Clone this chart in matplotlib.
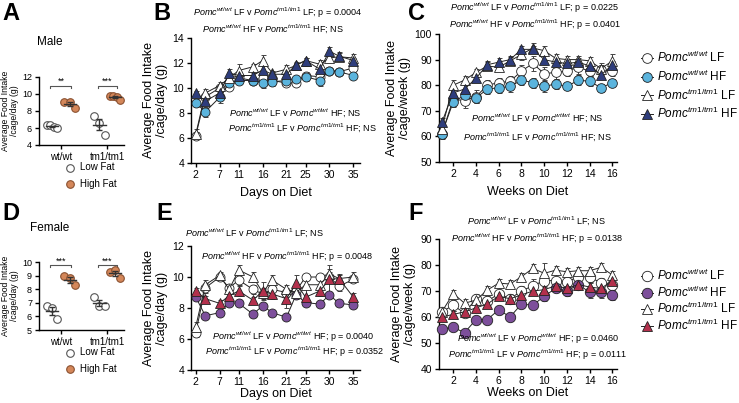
import numpy as np
import matplotlib
matplotlib.use('Agg')
import matplotlib.pyplot as plt

plt.rcParams['font.family'] = ['Liberation Sans', 'DejaVu Sans']
plt.rcParams['mathtext.fontset'] = 'custom'
plt.rcParams['mathtext.rm'] = 'Liberation Sans'
plt.rcParams['mathtext.it'] = 'Liberation Sans:italic'
plt.rcParams['mathtext.bf'] = 'Liberation Sans:bold'

# ---- data ----
days = [2, 4, 7, 9, 11, 14, 16, 18, 21, 23, 25, 28, 30, 32, 35]
day_ticks = [2, 7, 11, 16, 21, 25, 30, 35]
weeks = list(range(1, 17))
week_ticks = [2, 4, 6, 8, 10, 12, 14, 16]

# panel A / D (per cage average, g/day)
groups = ['wt/wt', 'tm1/tm1']
a_wt_lf = [6.4, 6.3, 6.1, 6.0]
a_wt_hf = [9.0, 9.0, 8.3]
a_tm_lf = [7.4, 6.6, 5.2]
a_tm_hf = [9.8, 9.75, 9.7, 9.3]
a_stars = ['**', '***']

d_wt_lf = [6.8, 6.6, 5.8]
d_wt_hf = [9.0, 8.8, 8.3]
d_tm_lf = [7.4, 6.8, 6.8]
d_tm_hf = [9.3, 9.4, 8.8]
d_stars = ['***', '***']

# panel B (male, daily)
b_wt_lf = [6.2, 9.3, 10.0, 10.1, 10.8, 10.6, 10.8, 10.6, 10.4, 10.4, 11.0, 10.9, 11.4, 11.3, 11.6]
b_wt_hf = [8.8, 8.1, 9.25, 10.4, 10.6, 10.6, 10.4, 10.5, 10.6, 10.7, 10.9, 10.6, 11.4, 11.3, 11.0]
b_tm_lf = [6.3, 9.6, 10.2, 10.8, 11.4, 11.7, 12.2, 11.2, 11.5, 11.8, 12.2, 11.9, 12.4, 12.5, 12.4]
b_tm_hf = [9.6, 8.95, 9.6, 11.2, 11.0, 11.0, 11.45, 11.1, 11.1, 11.85, 12.2, 11.5, 12.95, 12.55, 12.2]
b_wt_lf_err = [0.3, 0.3, 0.3, 0.2, 0.3, 0.2, 0.2, 0.3, 0.2, 0.2, 0.3, 0.2, 0.2, 0.2, 0.2]
b_wt_hf_err = [0.3, 0.4, 0.45, 0.3, 0.3, 0.3, 0.4, 0.3, 0.3, 0.3, 0.3, 0.45, 0.2, 0.2, 0.2]
b_tm_lf_err = [0.4, 0.3, 0.3, 0.3, 0.5, 0.2, 0.45, 0.2, 0.3, 0.2, 0.2, 0.3, 0.3, 0.3, 0.3]
b_tm_hf_err = [0.2, 0.2, 0.3, 0.3, 0.3, 0.2, 0.3, 0.2, 0.2, 0.2, 0.2, 0.3, 0.3, 0.3, 0.2]

# panel C (male, weekly)
c_wt_lf = [61, 74.5, 74, 75.5, 80, 81, 81.5, 85.5, 88.5, 84.5, 85, 85.5, 87, 85.5, 86, 85.5]
c_wt_hf = [61, 73.5, 76, 75, 78.5, 79, 79.5, 82, 81, 79.5, 80.5, 79.5, 82, 81.5, 79, 81]
c_tm_lf = [63, 80, 82, 85, 87.5, 87, 89.5, 92, 94.5, 93.5, 90.5, 90, 90, 89.5, 86.5, 89.5]
c_tm_hf = [65.5, 77, 78.5, 82.7, 88, 89, 90, 94, 94, 90, 89, 88.5, 89, 87.5, 84, 88]
c_wt_lf_err = [2, 2.5, 3, 2.5, 2, 2, 2, 2.5, 3, 2.5, 2.5, 2, 2.5, 2, 2, 2]
c_wt_hf_err = [1.5, 2, 2, 2, 2, 2, 2, 2, 2, 2, 2, 1.5, 2, 2, 1.5, 1.5]
c_tm_lf_err = [2, 2, 1.5, 1.5, 1.5, 1.5, 1.5, 2, 2, 2, 1.5, 1.5, 1.5, 1.5, 2, 2.5]
c_tm_hf_err = [1.5, 1.5, 1.5, 1.5, 1.5, 1.5, 1.5, 1.5, 1.5, 1.5, 1.5, 1.5, 1.5, 1.5, 1.5, 1.5]

# panel E (female, daily)
e_wt_lf = [6.4, 9.3, 10.0, 9.3, 9.8, 9.2, 8.9, 9.2, 9.0, 9.1, 10.0, 10.0, 10.0, 9.4, 9.85]
e_wt_hf = [8.7, 7.5, 7.7, 8.35, 8.3, 7.6, 8.15, 7.7, 7.4, 8.85, 8.35, 8.25, 8.85, 8.3, 8.2]
e_tm_lf = [6.8, 9.5, 10.1, 9.2, 10.45, 10.0, 9.0, 9.8, 9.2, 9.0, 9.5, 9.5, 10.2, 9.9, 10.0]
e_tm_hf = [9.1, 8.6, 8.3, 8.8, 9.1, 8.5, 9.1, 8.9, 8.6, 9.6, 8.7, 9.1, 9.85, 9.9, 8.7]
e_wt_lf_err = [0.3, 0.3, 0.2, 0.2, 0.3, 0.3, 0.3, 0.3, 0.3, 0.3, 0.2, 0.2, 0.3, 0.3, 0.2]
e_wt_hf_err = [0.2, 0.2, 0.2, 0.2, 0.2, 0.2, 0.2, 0.2, 0.2, 0.3, 0.2, 0.2, 0.2, 0.2, 0.2]
e_tm_lf_err = [0.3, 0.3, 0.2, 0.3, 0.3, 0.3, 0.3, 0.3, 0.3, 0.3, 0.3, 0.3, 0.3, 0.2, 0.3]
e_tm_hf_err = [0.2, 0.2, 0.2, 0.3, 0.3, 0.2, 0.6, 0.3, 0.6, 0.5, 0.5, 0.3, 0.9, 0.3, 0.3]

# panel F (female, weekly)
f_wt_lf = [62, 64.5, 61.5, 67, 66, 69, 67, 70, 72, 74, 74, 73.5, 75.5, 75.5, 73, 72.5]
f_wt_hf = [55.5, 56, 54, 59, 59, 62.8, 60, 65, 64.5, 68, 71, 70, 72.5, 69.5, 69.5, 68.5]
f_tm_lf = [62, 69, 65.3, 66.5, 70.4, 73, 72.7, 75.5, 78.7, 76.8, 78, 77.4, 77.8, 77.8, 79.1, 76.2]
f_tm_hf = [60, 61, 62, 63.5, 65, 68, 67, 68.5, 70, 70.5, 72, 71, 72.5, 71.5, 71, 74]
f_wt_lf_err = [1.5, 2, 1.5, 2, 2, 2.5, 2, 2, 2.5, 2.5, 4, 2.5, 2, 2, 2, 2]
f_wt_hf_err = [1.5, 1.5, 1.5, 1.5, 1.5, 1.5, 1.5, 1.5, 1.5, 2, 1.5, 2, 1.5, 2, 2, 2]
f_tm_lf_err = [1.5, 1.5, 1.5, 1.5, 1.5, 1.5, 1.5, 1.5, 1.5, 4, 1.5, 1.5, 1.5, 1.5, 1.5, 1.5]
f_tm_hf_err = [1.5, 1.5, 1.5, 1.5, 1.5, 1.5, 1.5, 1.5, 1.5, 1.5, 1.5, 1.5, 1.5, 1.5, 1.5, 1.5]

# ---- styles ----
ORANGE = '#D4875A'
LBLUE = '#5BB4DD'
NAVY = '#2E3D7C'
PURPLE = '#7D4F9B'
RED = '#B3304C'


def pomc(g):
    return r'$\mathit{Pomc}^{\mathit{' + g + '}}$'


def style_axes(ax, fs):
    for s in ['top', 'right']:
        ax.spines[s].set_visible(False)
    for s in ['left', 'bottom']:
        ax.spines[s].set_linewidth(1.0)
    ax.tick_params(labelsize=fs, length=3, width=1.0, pad=2)


def dot_panel(ax, lf_wt, hf_wt, lf_tm, hf_tm, stars, ylim, yticks, bar_y, star_off):
    pos = [0, 1, 2.7, 3.6]
    sets = [lf_wt, hf_wt, lf_tm, hf_tm]
    for i, vals in enumerate(sets):
        vals = np.array(vals)
        n = len(vals)
        jit = np.linspace(-0.3, 0.3, n) if n > 1 else [0]
        face = 'white' if i % 2 == 0 else ORANGE
        ax.scatter(pos[i] + np.array(jit), vals, s=30, facecolor=face,
                   edgecolor='#555555' if face == 'white' else '#8a5030', linewidth=0.8, zorder=3, clip_on=False)
        m = vals.mean()
        se = vals.std(ddof=1) / np.sqrt(n)
        ax.plot([pos[i] - 0.35, pos[i] + 0.35], [m, m], color='#333333', lw=1, zorder=4)
        ax.errorbar(pos[i], m, yerr=se, color='#333333', lw=1, capsize=2, zorder=4)
    for k, (a, b) in enumerate([(0, 1), (2, 3)]):
        xa, xb = pos[a] - 0.1, pos[b] + 0.1
        h = (ylim[1] - ylim[0]) * 0.025
        ax.plot([xa, xa, xb, xb], [bar_y - h, bar_y, bar_y, bar_y - h], color='#555555', lw=0.8, clip_on=False)
        ax.text((xa + xb) / 2, bar_y + star_off, stars[k], ha='center', va='center', fontsize=6.5, clip_on=False)
    ax.set_xlim(-0.75, 4.1)
    ax.set_ylim(*ylim)
    ax.set_yticks(yticks)
    ax.set_xticks([0.5, 3.15])
    ax.set_xticklabels(groups)
    style_axes(ax, 6.5)
    ax.tick_params(axis='x', labelsize=7)
    ax.set_ylabel('Average Food Intake\n/cage/day (g)', fontsize=6.2, labelpad=2, linespacing=1.1)
    h1 = ax.scatter([], [], s=30, facecolor='white', edgecolor='#555555', linewidth=0.8)
    h2 = ax.scatter([], [], s=30, facecolor=ORANGE, edgecolor='#8a5030', linewidth=0.8)
    ax.legend([h1, h2], ['Low Fat', 'High Fat'], loc='upper center', bbox_to_anchor=(0.58, -0.18),
              frameon=False, fontsize=7, handletextpad=0.1, labelspacing=0.7, borderpad=0)


def line_panel(ax, x, series, errs, colors, xlim, xticks, ylim, yticks, ylabel, xlabel, msize, xpad):
    markers = ['o', 'o', '^', '^']
    faces = ['white', colors[0], 'white', colors[1]]
    order = [2, 0, 1, 3]
    hs = []
    for i in order:
        ax.errorbar(x, series[i], yerr=errs[i], fmt='none', ecolor='#444444', elinewidth=0.7,
                    capsize=1.8, capthick=0.7, zorder=2 + i * 0.1)
    for i in order:
        h, = ax.plot(x, series[i], color='#222222', lw=0.7, marker=markers[i], ms=msize,
                     mfc=faces[i], mec='#222222', mew=0.6, zorder=3 + i * 0.1, clip_on=False)
        hs.append((i, h))
    ax.set_xlim(*xlim)
    ax.set_ylim(*ylim)
    ax.set_xticks(xticks)
    ax.set_yticks(yticks)
    style_axes(ax, 7.5)
    ax.set_ylabel(ylabel, fontsize=9, labelpad=3, linespacing=1.1)
    ax.set_xlabel(xlabel, fontsize=9, labelpad=xpad)
    return [h for i, h in sorted(hs)]


W, H = 739, 403
fig = plt.figure(figsize=(W / 100, H / 100), dpi=100)


def box(l, t, r, b):
    return [l / W, 1 - b / H, (r - l) / W, (b - t) / H]


axA = fig.add_axes(box(39, 77, 124, 145))
axB = fig.add_axes(box(191, 38, 360, 163))
axC = fig.add_axes(box(439, 34, 617, 162))
axD = fig.add_axes(box(39, 262, 124, 330))
axE = fig.add_axes(box(191, 246, 360, 370))
axF = fig.add_axes(box(439, 239, 617, 369))

dot_panel(axA, a_wt_lf, a_wt_hf, a_tm_lf, a_tm_hf, a_stars, (4, 12), [4, 6, 8, 10, 12], 10.95, 0.55)
dot_panel(axD, d_wt_lf, d_wt_hf, d_tm_lf, d_tm_hf, d_stars, (5, 10), [5, 6, 7, 8, 9, 10], 9.75, 0.3)

labels_day = 'Average Food Intake\n/cage/day (g)'
labels_week = 'Average Food Intake\n/cage/week (g)'

line_panel(axB, days, [b_wt_lf, b_wt_hf, b_tm_lf, b_tm_hf],
           [b_wt_lf_err, b_wt_hf_err, b_tm_lf_err, b_tm_hf_err], [LBLUE, NAVY],
           (1, 36.4), day_ticks, (4, 14), [4, 6, 8, 10, 12, 14], labels_day, 'Days on Diet', 6.5, 5)
hC = line_panel(axC, weeks, [c_wt_lf, c_wt_hf, c_tm_lf, c_tm_hf],
                [c_wt_lf_err, c_wt_hf_err, c_tm_lf_err, c_tm_hf_err], [LBLUE, NAVY],
                (0.75, 16.4), week_ticks, (50, 100), [50, 60, 70, 80, 90, 100], labels_week, 'Weeks on Diet', 7, 5)
line_panel(axE, days, [e_wt_lf, e_wt_hf, e_tm_lf, e_tm_hf],
           [e_wt_lf_err, e_wt_hf_err, e_tm_lf_err, e_tm_hf_err], [PURPLE, RED],
           (1, 36.4), day_ticks, (4, 12), [4, 6, 8, 10, 12], labels_day, 'Days on Diet', 6.5, 0.5)
hF = line_panel(axF, weeks, [f_wt_lf, f_wt_hf, f_tm_lf, f_tm_hf],
                [f_wt_lf_err, f_wt_hf_err, f_tm_lf_err, f_tm_hf_err], [PURPLE, RED],
                (0.75, 16.4), week_ticks, (40, 90), [40, 50, 60, 70, 80, 90], labels_week, 'Weeks on Diet', 7.5, 0.5)

leg_labels = [pomc('wt/wt') + ' LF', pomc('wt/wt') + ' HF',
              pomc('tm1/tm1') + ' LF', pomc('tm1/tm1') + ' HF']
fig.legend(hC, leg_labels, loc='upper left', bbox_to_anchor=(635 / W, 1 - 44 / H), frameon=False,
           fontsize=8.5, handlelength=1.0, handletextpad=0.4, labelspacing=0.3, borderpad=0)
fig.legend(hF, leg_labels, loc='upper left', bbox_to_anchor=(635 / W, 1 - 262 / H), frameon=False,
           fontsize=8.5, handlelength=1.0, handletextpad=0.4, labelspacing=0.12, borderpad=0)

# panel letters and titles
for letter, x, y in [('A', 2, 2), ('B', 153, 2), ('C', 408, 2), ('D', 2, 202), ('E', 156, 202), ('F', 408, 202)]:
    fig.text(x / W, 1 - y / H, letter, fontsize=17, fontweight='bold', va='top', ha='left')
fig.text(50 / W, 1 - 42 / H, 'Male', fontsize=8.5, ha='center', va='center')
fig.text(50 / W, 1 - 228 / H, 'Female', fontsize=8.5, ha='center', va='center')


def note(x, y, a, b, tail):
    fig.text(x / W, 1 - y / H, a + b + tail, fontsize=6.5, ha='center', va='center')


wt, tm = pomc('wt/wt'), pomc('tm1/tm1')
note(278, 13, wt + ' LF v ', tm, ' LF; p = 0.0004')
note(273, 29, wt + ' HF v ', tm, ' HF; NS')
note(295, 113, wt + ' LF v ', wt, ' HF; NS')
note(302, 128, tm + ' LF v ', tm, ' HF; NS')

note(535, 8, wt + ' LF v ', tm, ' LF; p = 0.0225')
note(535, 25, wt + ' HF v ', tm, ' HF; p = 0.0401')
note(537, 118, wt + ' LF v ', wt, ' HF; NS')
note(537, 137, tm + ' LF v ', tm, ' HF; NS')

note(255, 233, wt + ' LF v ', tm, ' LF; NS')
note(287, 257, wt + ' HF v ', tm, ' HF; p = 0.0048')
note(293, 337, wt + ' LF v ', wt, ' HF; p = 0.0040')
note(295, 352, tm + ' LF v ', tm, ' HF; p = 0.0352')

note(537, 221, wt + ' LF v ', tm, ' LF; NS')
note(537, 239, wt + ' HF v ', tm, ' HF; p = 0.0138')
note(538, 339, wt + ' LF v ', wt, ' HF; p = 0.0460')
note(538, 355, tm + ' LF v ', tm, ' HF; p = 0.0111')

fig.savefig('out.png', dpi=100)
